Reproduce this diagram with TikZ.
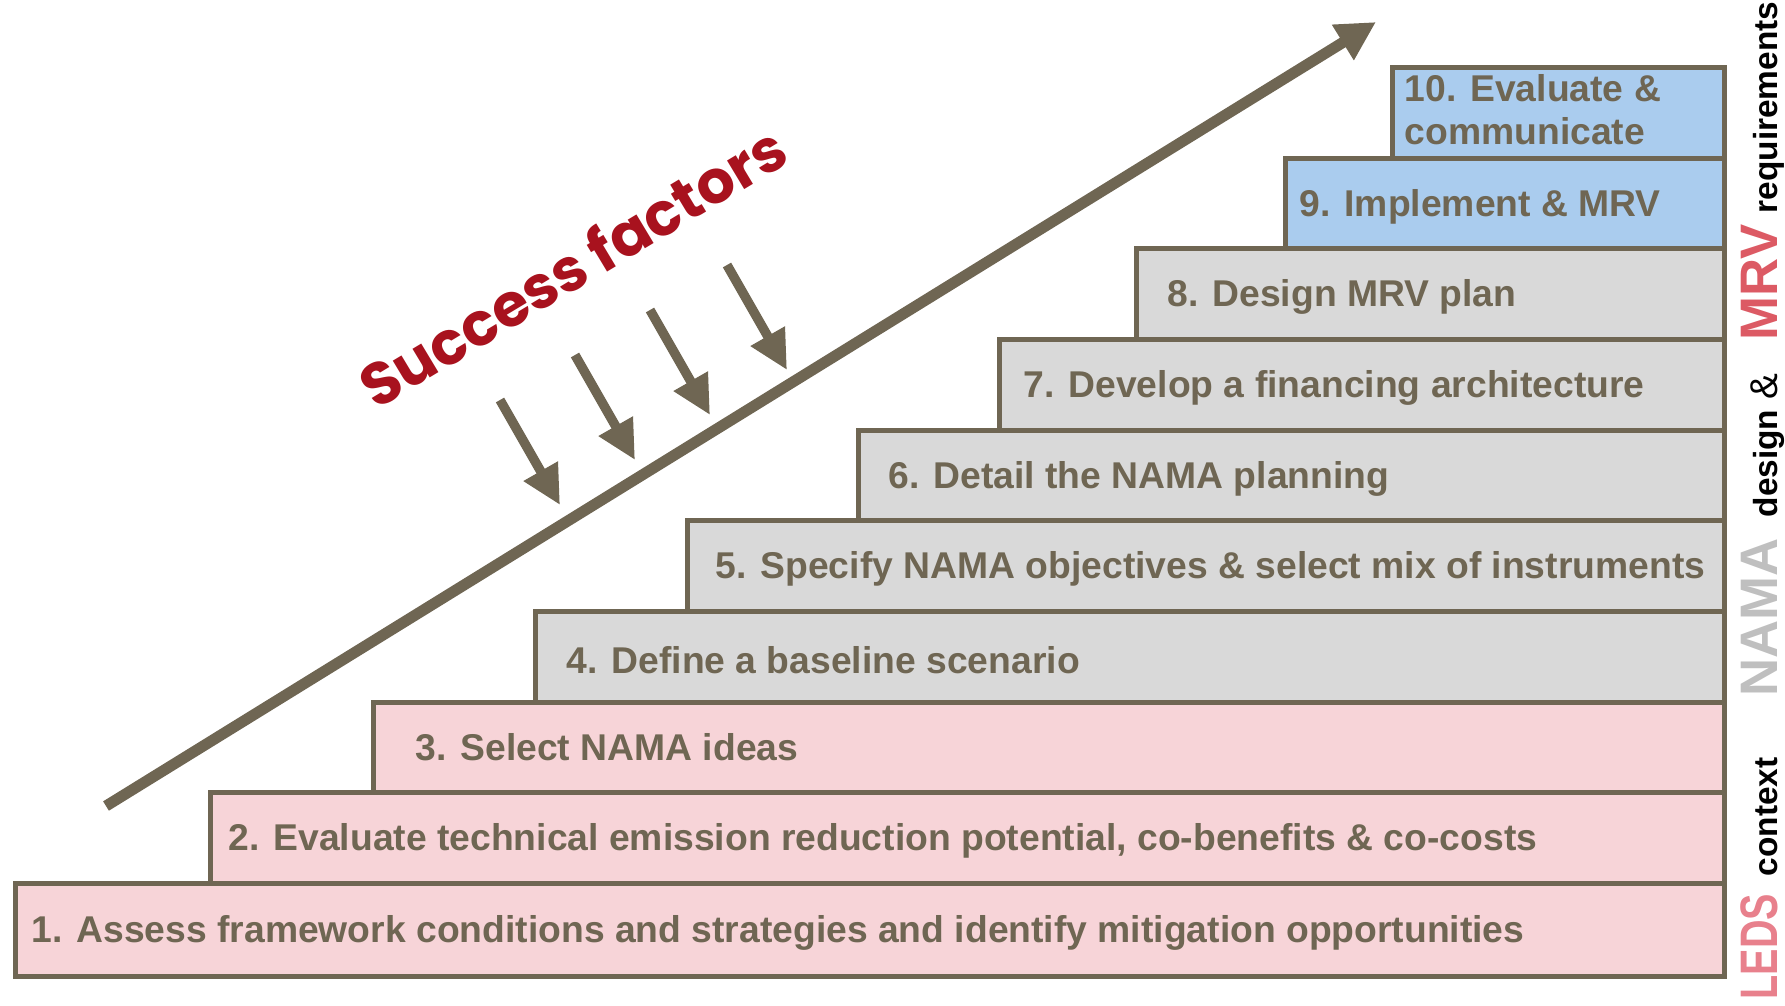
\documentclass[tikz,border=0pt]{standalone}
\usepackage{fontspec}
\setmainfont{Liberation Sans}
\newfontfamily\successfont{Poppins}
\usetikzlibrary{arrows.meta}

\definecolor{stepline}{RGB}{111,102,83}
\definecolor{ledspink}{RGB}{247,212,216}
\definecolor{namagray}{RGB}{217,217,217}
\definecolor{mrvblue}{RGB}{170,204,238}
\definecolor{successred}{RGB}{168,18,30}
\definecolor{ledsword}{RGB}{232,128,140}
\definecolor{namaword}{RGB}{191,191,191}
\definecolor{mrvword}{RGB}{220,90,100}

\newcommand\sidebig{\fontsize{15}{15}\selectfont\bfseries}
\newcommand\sidenama{\fontsize{15}{15}\selectfont\bfseries}
\newcommand\sidesmall{\fontsize{9.5}{9.5}\selectfont\bfseries}

\tikzset{
  stepbox/.style={draw=stepline, line width=0.05cm, anchor=north west, inner sep=0pt},
  steptext/.style={text=stepline, anchor=west, align=left, inner sep=0pt,
    font=\fontsize{10.6}{12.2}\selectfont\bfseries},
  riser/.style={draw=stepline, line width=0.11cm, -{Triangle[length=0.39cm,width=0.39cm]}},
  factorarrow/.style={draw=stepline, line width=0.095cm, -{Triangle[length=0.39cm,width=0.37cm]}},
  sideword/.style={rotate=90, anchor=base west, inner sep=0pt},
}

\begin{document}
\begin{tikzpicture}[x=0.01cm, y=-0.01cm]
  \useasboundingbox (0,0) rectangle (1785,1005);
  % steps, lowest first
  \foreach \n/\x/\y/\h/\pad/\dy/\c/\t in {
      1/13/881/93/18/3/ledspink/{1. Assess framework conditions and strategies and identify mitigation opportunities},
      2/208/790/91/20/3/ledspink/{2. Evaluate technical emission reduction potential, co-benefits \& co-costs},
      3/371/700/90/44/0/ledspink/{3. Select NAMA ideas},
      4/533/609/91/33/3/namagray/{4. Define a baseline scenario},
      5/685/518/91/30/3/namagray/{5. Specify NAMA objectives \& select mix of instruments},
      6/856/428/90/32/3/namagray/{6. Detail the NAMA planning},
      7/997/337/91/26/3/namagray/{7. Develop a financing architecture},
      8/1134/246/91/33/3/namagray/{8. Design MRV plan},
      9/1283/156/90/16/3/mrvblue/{9. Implement \& MRV},
      10/1390/65/91/14/-3/mrvblue/{10. Evaluate \&\\communicate}}{%
    \pgfmathsetmacro\w{(1722-\x)*0.01}
    \pgfmathsetmacro\hh{\h*0.01}
    \pgfmathsetmacro\ps{\pad*0.01}
    \pgfmathsetmacro\ds{-\dy*0.01}
    \node[stepbox, fill=\c, minimum width=\w cm, minimum height=\hh cm] (step\n) at (\x,\y) {};
    \node[steptext] (label\n) at ([xshift=\ps cm, yshift=\ds cm]step\n.west) {\t};
  }

  % rising arrow
  \coordinate (rise start) at (106,806);
  \coordinate (rise end) at (1376,22);
  \draw[riser] (rise start) -- (rise end);

  % success factors
  \node[rotate=31, text=successred, font=\successfont\fontsize{17}{20}\selectfont\bfseries]
    (success) at (572,266) {Success factors};
  \foreach \i/\x/\y in {1/500/400, 2/575/355, 3/650/310, 4/727/265}{%
    \coordinate (factor\i a) at (\x,\y);
    \coordinate (factor\i b) at (\x+60,\y+105);
    \draw[factorarrow] (factor\i a) -- (factor\i b);
  }

  % side caption
  \foreach \y/\word [count=\i] in {
      1000/{\sidebig\color{ledsword}\scalebox{0.75}[1]{LEDS}},
      877/{\sidesmall context},
      697/{\sidenama\color{namaword}NAMA},
      518/{\sidesmall design},
      400/{\fontsize{11}{11}\selectfont\&},
      341/{\sidebig\color{mrvword}MRV},
      214/{\sidesmall requirements}}{%
    \node[sideword] (side\i) at (1777,\y) {\word};
  }
\end{tikzpicture}
\end{document}
